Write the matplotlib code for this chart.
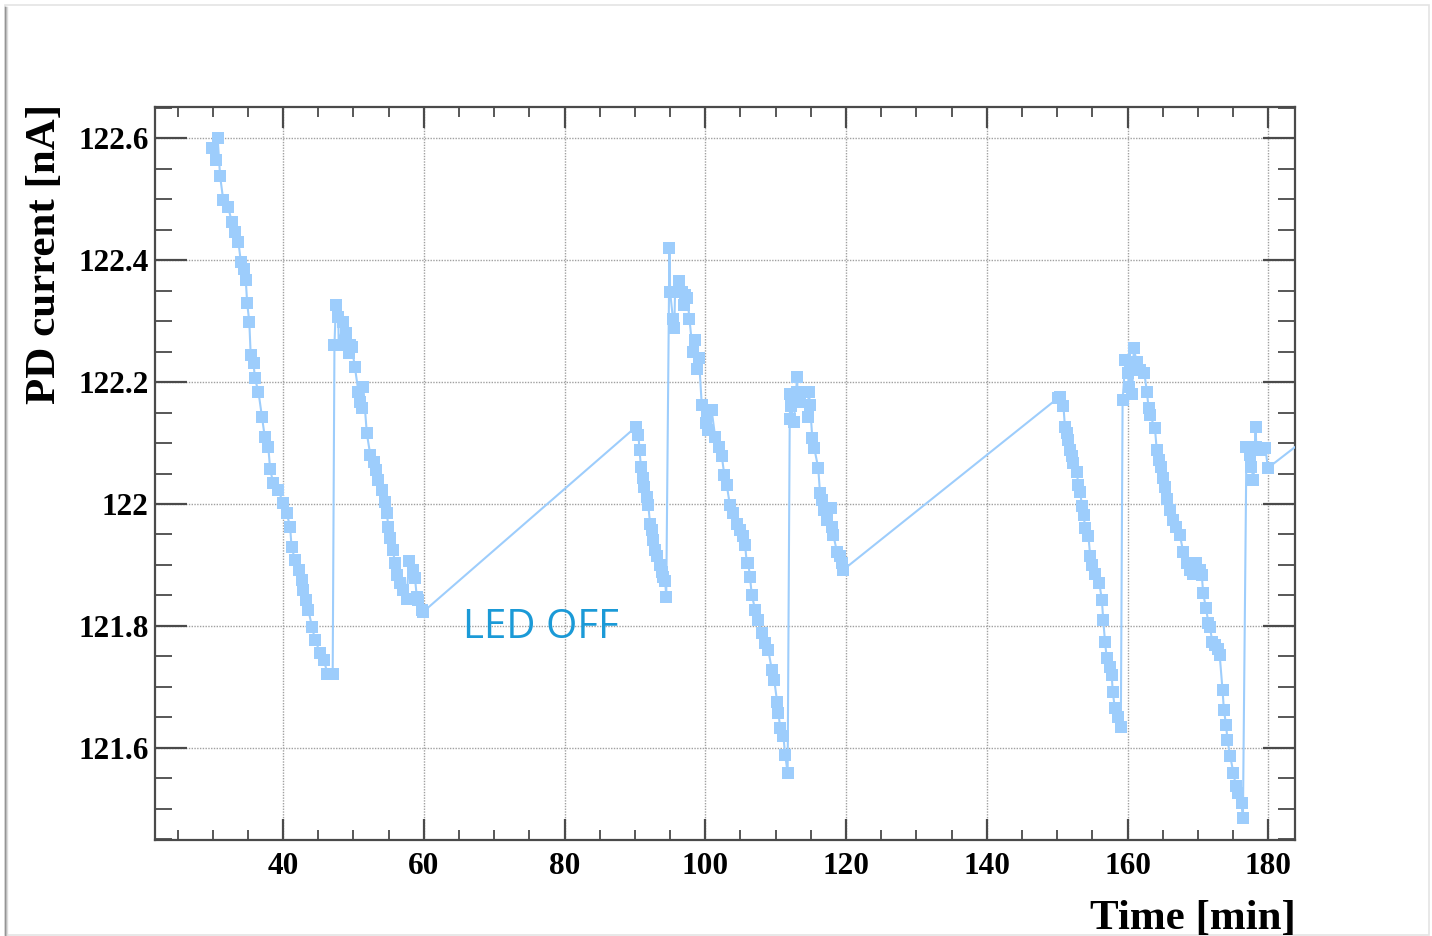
import matplotlib
matplotlib.use("Agg")
import matplotlib.pyplot as plt
from matplotlib.ticker import MultipleLocator, FuncFormatter
from matplotlib.patches import Rectangle

# ---------------------- PD current readings ----------------------
# time [min]
t = [29.85, 30.4, 30.7, 31.05, 31.5, 32.2, 32.7, 33.2, 33.65, 34.0, 34.5, 34.7,
     34.9, 35.2, 35.4, 35.8, 36.0, 36.5, 37.0, 37.4, 37.9, 38.15, 38.6, 39.3,
     40.05, 40.5, 41.0, 41.2, 41.7, 42.2, 42.65, 42.9, 43.3, 43.6, 44.1, 44.55,
     45.3, 45.8, 46.3, 46.9, 47.05,
     47.3, 47.5, 47.85, 47.9, 48.55, 49.0, 49.4, 49.5, 49.75, 50.2, 50.7, 50.9,
     51.15, 51.4, 51.9, 52.4, 52.85, 53.2, 53.55, 54.0, 54.5, 54.75, 54.95, 55.2,
     55.6, 55.9, 56.15, 56.6, 57.1, 57.55, 57.9, 58.5, 58.75, 59.0, 59.2, 59.7,
     59.9,
     90.2, 90.5, 90.65, 90.85, 91.1, 91.3, 91.7, 91.9, 92.15, 92.4, 92.6, 92.9,
     93.1, 93.5, 93.8, 94.05, 94.3, 94.45,
     94.9, 95.0, 95.4, 95.6, 95.7, 96.3, 96.65, 97.0, 97.1, 97.45, 97.75, 98.2,
     98.55, 98.8, 99.1, 99.5, 100.1, 100.2, 100.45, 100.9, 101.4, 101.9, 102.35,
     102.7, 103.05, 103.5, 104.0, 104.45, 104.95, 105.3, 105.65, 105.9, 106.1,
     106.35, 106.6, 107.1, 107.55, 108.0, 108.5, 108.95, 109.45, 109.8, 110.2,
     110.4, 110.65, 111.1, 111.35, 111.7,
     112.0, 112.1, 112.15, 112.6, 113.05, 113.1, 113.5, 114.0, 114.55, 114.7,
     114.9, 115.2, 115.5, 116.05, 116.3, 116.6, 116.9, 117.3, 117.8, 118.0,
     118.2, 118.7, 119.2, 119.4, 119.6,
     150.15, 150.4, 150.9, 151.1, 151.4, 151.6, 151.85, 152.1, 152.3, 152.8,
     153.0, 153.3, 153.5, 153.75, 154.0, 154.45, 154.7, 154.9, 155.4, 156.0,
     156.35, 156.55, 156.8, 157.05, 157.5, 157.75, 157.9, 158.2, 158.7, 159.05,
     159.3,
     159.7, 160.1, 160.15, 160.6, 160.65, 160.9, 161.3, 161.8, 162.4, 162.75,
     163.0, 163.2, 163.9, 164.15, 164.5, 164.7, 165.1, 165.35, 165.6, 166.05,
     166.5, 166.95, 167.45, 167.9, 168.4, 168.85, 169.3, 169.8, 170.3, 170.55,
     170.75, 171.15, 171.5, 171.7, 172.05, 172.4, 172.85, 173.1, 173.5, 173.7,
     174.0, 174.2, 174.6, 175.05, 175.4, 175.7, 176.2, 176.4,
     176.9, 177.35, 177.6, 177.9, 178.2, 178.3, 179.0, 179.6, 179.95, 186.0]

# current [nA]
current = [122.583, 122.564, 122.600, 122.538, 122.498, 122.487, 122.463, 122.446,
           122.430, 122.397, 122.386, 122.367, 122.329, 122.299, 122.244, 122.231,
           122.206, 122.184, 122.143, 122.110, 122.094, 122.058, 122.034, 122.023,
           122.001, 121.985, 121.963, 121.930, 121.908, 121.892, 121.875, 121.859,
           121.843, 121.826, 121.799, 121.777, 121.755, 121.744, 121.722, 121.722,
           121.722,
           122.260, 122.326, 122.307, 122.260, 122.299, 122.280, 122.247, 122.260,
           122.258, 122.225, 122.184, 122.168, 122.157, 122.192, 122.116, 122.080,
           122.069, 122.056, 122.039, 122.023, 122.004, 121.985, 121.963, 121.944,
           121.925, 121.903, 121.884, 121.870, 121.859, 121.845, 121.906, 121.892,
           121.878, 121.848, 121.843, 121.826, 121.823,
           122.127, 122.113, 122.089, 122.061, 122.042, 122.028, 122.012, 121.998,
           121.968, 121.957, 121.941, 121.925, 121.914, 121.900, 121.889, 121.881,
           121.873, 121.848,
           122.419, 122.348, 122.304, 122.288, 122.348, 122.365, 122.348, 122.326,
           122.343, 122.337, 122.304, 122.250, 122.269, 122.222, 122.239, 122.162,
           122.132, 122.146, 122.121, 122.154, 122.110, 122.094, 122.078, 122.048,
           122.031, 121.998, 121.985, 121.968, 121.957, 121.947, 121.933, 121.903,
           121.903, 121.881, 121.851, 121.826, 121.810, 121.788, 121.772, 121.761,
           121.728, 121.711, 121.676, 121.657, 121.632, 121.619, 121.589, 121.559,
           122.140, 122.181, 122.160, 122.135, 122.209, 122.184, 122.168, 122.184,
           122.143, 122.184, 122.162, 122.108, 122.091, 122.059, 122.018, 122.007,
           121.990, 121.974, 121.993, 121.963, 121.949, 121.922, 121.914, 121.903,
           121.892,
           122.174, 122.176, 122.160, 122.127, 122.116, 122.105, 122.089, 122.078,
           122.067, 122.053, 122.031, 122.020, 121.996, 121.982, 121.960, 121.947,
           121.914, 121.900, 121.886, 121.870, 121.843, 121.810, 121.774, 121.747,
           121.733, 121.720, 121.692, 121.665, 121.651, 121.635, 122.170,
           122.236, 122.214, 122.192, 122.220, 122.181, 122.255, 122.233, 122.220,
           122.214, 122.184, 122.157, 122.146, 122.124, 122.089, 122.072, 122.061,
           122.042, 122.028, 122.009, 121.990, 121.974, 121.963, 121.949, 121.922,
           121.903, 121.892, 121.886, 121.903, 121.892, 121.884, 121.854, 121.829,
           121.805, 121.799, 121.774, 121.769, 121.763, 121.752, 121.695, 121.662,
           121.638, 121.613, 121.586, 121.559, 121.537, 121.526, 121.509, 121.485,
           122.094, 122.080, 122.061, 122.039, 122.127, 122.094, 122.089, 122.091,
           122.059, 122.113]

x_ticks = [40, 60, 80, 100, 120, 140, 160, 180]
y_ticks = [121.6, 121.8, 122.0, 122.2, 122.4, 122.6]

# ------------------------------------------------------------------
W, H = 1432, 936
fig = plt.figure(figsize=(W / 100, H / 100), dpi=100)
fig.patch.set_facecolor("white")

# page frame with a soft left shadow
fig.add_artist(Rectangle((5 / W, 1 / H), 1424 / W, 930 / H, transform=fig.transFigure,
                         fill=False, edgecolor="#e4e4e4", lw=1.2))
for i, c in enumerate(["#8c8c8c", "#b5b5b5", "#dcdcdc"]):
    fig.add_artist(plt.Line2D([(5 + i) / W] * 2, [1 / H, 929 / H], color=c, lw=1.0,
                              transform=fig.transFigure))

ax = fig.add_axes([155 / W, 1 - 840 / H, (1295 - 155) / W, (840 - 107) / H])

ax.plot(t, current, color="#9dcdfc", lw=1.5, marker="s", markersize=8.2,
        markeredgewidth=0, clip_on=True, zorder=3)

ax.text(65.6, 121.78, "LED OFF", color="#1b9ad7", fontsize=29,
        family="Open Sans", ha="left", va="baseline")

ax.set_xlim(21.8, 183.8)
ax.set_ylim(121.449, 122.651)

ax.set_xticks(x_ticks)
ax.set_yticks(y_ticks)
ax.xaxis.set_minor_locator(MultipleLocator(5))
ax.yaxis.set_minor_locator(MultipleLocator(0.05))
ax.yaxis.set_major_formatter(FuncFormatter(lambda v, p: "%g" % round(v, 2)))

ax.grid(True, which="major", color="#a0a0a0", lw=1.0, linestyle=(0, (1, 1)))
ax.set_axisbelow(True)

frame_col = "#4a4a4a"
for s in ax.spines.values():
    s.set_color(frame_col)
    s.set_linewidth(1.6)

ax.tick_params(axis="both", which="both", direction="in", top=True, right=True,
               color=frame_col)
ax.tick_params(axis="x", which="major", length=15, width=1.6, pad=9)
ax.tick_params(axis="x", which="minor", length=7.5, width=1.3)
ax.tick_params(axis="y", which="major", length=23, width=1.6, pad=4.5)
ax.tick_params(axis="y", which="minor", length=12, width=1.3)

for lab in ax.get_xticklabels() + ax.get_yticklabels():
    lab.set_fontfamily("Liberation Serif")
    lab.set_fontweight("bold")
    lab.set_fontsize(22.5)

fig.text(45 / W, 1 - 104 / H, "PD current [nA]", rotation=90, ha="center", va="top",
         family="Liberation Serif", fontweight="bold", fontsize=31)
fig.text(1296 / W, 1 - 929 / H, "Time [min]", ha="right", va="baseline",
         family="Liberation Serif", fontweight="bold", fontsize=31)

fig.savefig("out.png", dpi=100)
